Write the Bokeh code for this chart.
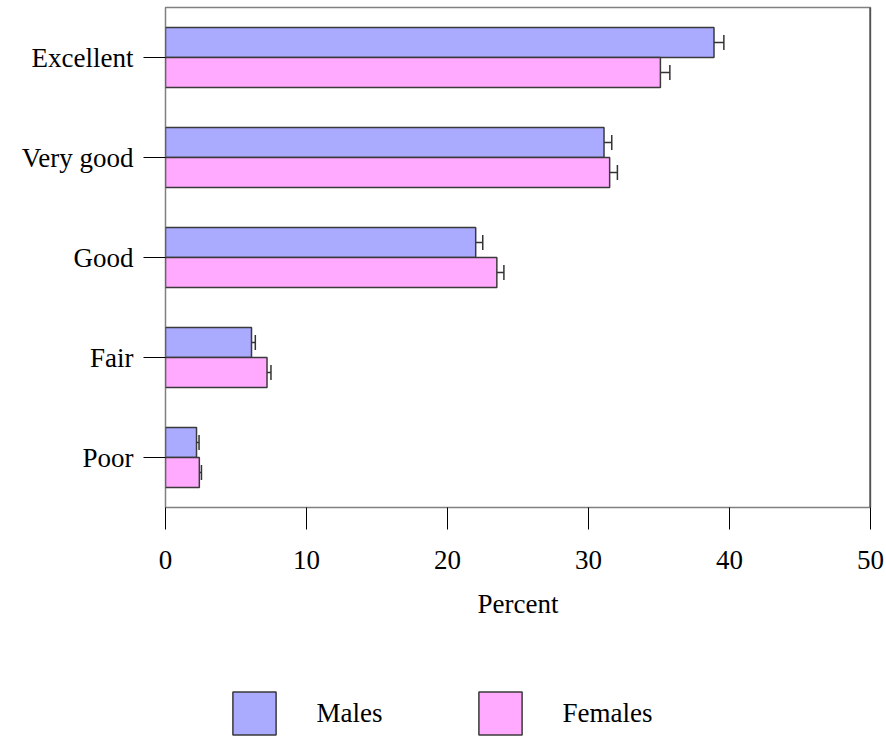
from bokeh.plotting import figure
from bokeh.layouts import column
from bokeh.models import (ColumnDataSource, FactorRange, Whisker, TeeHead,
                          Legend, LegendItem, Span)
from bokeh.transform import dodge
from bokeh.embed import file_html
from bokeh.resources import INLINE

# Self-rated health by sex, percent with standard-error bars
categories = ["Excellent", "Very good", "Good", "Fair", "Poor"]
males = [38.9, 31.1, 22.0, 6.1, 2.2]
males_err = [0.7, 0.55, 0.5, 0.27, 0.18]
females = [35.1, 31.5, 23.5, 7.2, 2.4]
females_err = [0.67, 0.55, 0.5, 0.28, 0.15]
x_ticks = [0, 10, 20, 30, 40, 50]
series_names = ["Males", "Females"]

FONT = "Liberation Serif"
MALE_FILL = "#AAAAFF"
FEMALE_FILL = "#FFAAFF"
EDGE = "#3a3a3a"

src = ColumnDataSource(dict(
    cat=categories,
    males=males,
    m_lo=[v - e for v, e in zip(males, males_err)],
    m_hi=[v + e for v, e in zip(males, males_err)],
    females=females,
    f_lo=[v - e for v, e in zip(females, females_err)],
    f_hi=[v + e for v, e in zip(females, females_err)],
))

p = figure(
    width=886, height=660,
    y_range=FactorRange(factors=categories[::-1], range_padding=0),
    x_range=(0, 50),
    output_backend="svg", toolbar_location=None,
    min_border_left=165, min_border_right=16,
    min_border_top=7, min_border_bottom=153,
)

p.hbar(y=dodge("cat", 0.15, range=p.y_range), left=0, right="males",
       height=0.3, source=src, fill_color=MALE_FILL,
       line_color=EDGE, line_width=1.5)
p.hbar(y=dodge("cat", -0.15, range=p.y_range), left=0, right="females",
       height=0.3, source=src, fill_color=FEMALE_FILL,
       line_color=EDGE, line_width=1.5)

for shift, lo, hi in [(0.15, "m_lo", "m_hi"), (-0.15, "f_lo", "f_hi")]:
    w = Whisker(
        base=dodge("cat", shift, range=p.y_range), lower=lo, upper=hi,
        dimension="width", source=src, line_color="#333333", line_width=1.5,
        lower_head=TeeHead(size=15, line_color="#333333", line_width=1.5),
        upper_head=TeeHead(size=15, line_color="#333333", line_width=1.5),
    )
    p.add_layout(w)

# frame
p.outline_line_color = "#808080"
p.outline_line_width = 1.5
p.add_layout(Span(location=50, dimension="height", line_color="#222222",
                  line_width=2))
p.xgrid.visible = False
p.ygrid.visible = False

# x axis
p.xaxis.ticker = x_ticks
p.xaxis.axis_line_color = None
p.xaxis.major_tick_in = 0
p.xaxis.major_tick_out = 22
p.xaxis.minor_tick_in = 0
p.xaxis.minor_tick_out = 0
p.xaxis.major_tick_line_color = "black"
p.xaxis.major_label_standoff = 21
p.xaxis.major_label_text_font = FONT
p.xaxis.major_label_text_font_size = "27px"
p.xaxis.major_label_text_color = "black"
p.xaxis.axis_label = "Percent"
p.xaxis.axis_label_text_font = FONT
p.xaxis.axis_label_text_font_size = "27px"
p.xaxis.axis_label_text_font_style = "normal"
p.xaxis.axis_label_text_color = "black"
p.xaxis.axis_label_standoff = 17

# y axis
p.yaxis.axis_line_color = None
p.yaxis.major_tick_in = 0
p.yaxis.major_tick_out = 22
p.yaxis.major_tick_line_color = "black"
p.yaxis.major_label_standoff = 10
p.yaxis.major_label_text_font = FONT
p.yaxis.major_label_text_font_size = "27px"
p.yaxis.major_label_text_color = "black"

# legend strip underneath the chart; swatch renderers sit off-range
leg = figure(width=886, height=78, x_range=(0, 1), y_range=(0, 1),
             x_axis_type=None, y_axis_type=None,
             output_backend="svg", toolbar_location=None,
             min_border=0, min_border_left=0, min_border_right=0,
             min_border_top=0, min_border_bottom=0)
leg.outline_line_color = None
leg.xgrid.visible = False
leg.ygrid.visible = False
swatches = [
    leg.rect(x=[-5], y=[-5], width=[0.1], height=[0.1], fill_color=c,
             line_color=EDGE, line_width=1.5)
    for c in (MALE_FILL, FEMALE_FILL)
]
legend = Legend(
    items=[LegendItem(label=n, renderers=[r])
           for n, r in zip(series_names, swatches)],
    location=(61.6, -2), orientation="horizontal",
    glyph_width=54, glyph_height=54, label_standoff=36, spacing=90,
    padding=0, margin=0, border_line_color=None, background_fill_alpha=0,
    label_text_font=FONT, label_text_font_size="27px",
    label_text_color="black",
)
leg.add_layout(legend)

layout = column(p, leg, spacing=0)
open("out.html", "w").write(file_html(layout, INLINE))
